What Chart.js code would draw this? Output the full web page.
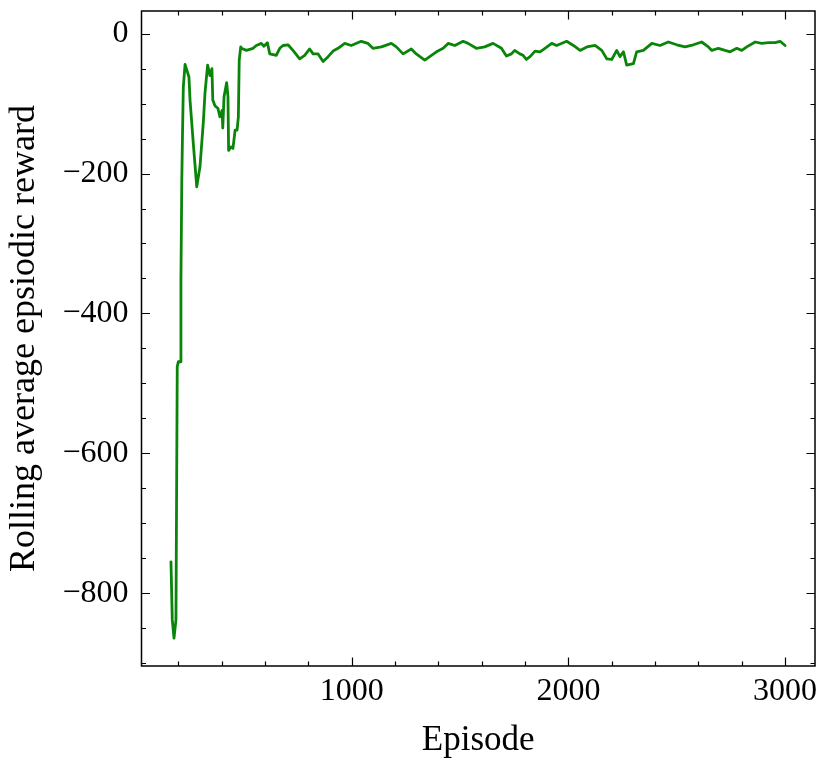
<!DOCTYPE html>
<html>
<head>
<meta charset="utf-8">
<script src="https://cdn.jsdelivr.net/npm/chart.js@4"></script>
<style>
  html, body { margin: 0; padding: 0; background: #fff; }
  #wrap { width: 832px; height: 767px; }
</style>
</head>
<body>
<div id="wrap"><canvas id="reward-chart" width="832" height="767"></canvas></div>
<script>
// episode numbers (x) and rolling average reward (y)
const episodes = [166, 172, 180, 189, 195, 200, 208, 212, 216, 219, 223, 231, 249, 254, 269, 285,
    300, 308, 315, 323, 335, 346, 355, 359, 369, 383, 392, 402, 405, 411, 423, 429, 432, 443,
    452, 462, 471, 477, 481, 488, 491, 514, 545, 560, 583, 595, 611, 622, 652, 668, 683, 706,
    729, 760, 783, 806, 822, 845, 868, 891, 914, 937, 968, 998, 1044, 1075, 1098, 1137, 1183,
    1206, 1237, 1275, 1298, 1337, 1360, 1391, 1422, 1445, 1476, 1514, 1537, 1575, 1614, 1652,
    1691, 1714, 1737, 1752, 1776, 1791, 1806, 1823, 1846, 1869, 1892, 1923, 1946, 1992, 2023,
    2054, 2085, 2123, 2154, 2177, 2200, 2223, 2238, 2254, 2269, 2300, 2315, 2346, 2385, 2423,
    2461, 2500, 2538, 2577, 2615, 2646, 2662, 2692, 2723, 2746, 2777, 2800, 2823, 2862, 2892,
    2923, 2954, 2977, 3000];
const rewards = [-755, -838, -864, -838, -476, -469, -469, -352, -209, -148, -76, -44, -62, -95, -157, -219,
    -190, -157, -128, -85, -45, -60, -50, -95, -103, -107, -119, -110, -135, -90, -70, -90, -167, -162,
    -164, -138, -138, -119, -38, -19, -21, -24, -21, -17, -14, -18, -13, -29, -31, -21, -17, -16,
    -24, -36, -31, -22, -29, -29, -40, -33, -25, -21, -14, -17, -11, -14, -21, -19, -14,
    -19, -29, -22, -29, -38, -33, -26, -21, -14, -17, -11, -14, -21, -19, -14,
    -21, -32, -29, -24, -29, -31, -37, -33, -25, -26, -21, -14, -17, -11, -17,
    -24, -19, -17, -24, -36, -37, -24, -33, -26, -45, -43, -26, -24, -14, -17,
    -12, -16, -19, -16, -12, -19, -24, -21, -24, -26, -21, -24, -19, -12, -14,
    -13, -13, -11, -17];

// tick labels
const xTicks = [1000, 2000, 3000];
const yTicks = [-800, -600, -400, -200, 0];

const serif = "'Liberation Serif', 'Times New Roman', serif";

// inward ticks on all four sides plus the frame
const framePlugin = {
    id: 'frame',
    afterDraw(chart) {
        const { ctx, chartArea: a, scales: { x, y } } = chart;
        ctx.save();
        ctx.strokeStyle = '#000';
        ctx.lineWidth = 1.2;
        const major = 8.5, minor = 4.5;
        for (let v = 200; v < x.max; v += 200) {
            if (v < x.min) continue;
            const px = Math.round(x.getPixelForValue(v)) + 0.5;
            const len = v % 1000 === 0 ? major : minor;
            ctx.beginPath();
            ctx.moveTo(px, a.bottom); ctx.lineTo(px, a.bottom - len);
            ctx.moveTo(px, a.top); ctx.lineTo(px, a.top + len);
            ctx.stroke();
        }
        for (let v = -900; v < y.max; v += 50) {
            if (v < y.min) continue;
            const py = Math.round(y.getPixelForValue(v)) + 0.5;
            const len = v % 200 === 0 ? major : minor;
            ctx.beginPath();
            ctx.moveTo(a.left, py); ctx.lineTo(a.left + len, py);
            ctx.moveTo(a.right, py); ctx.lineTo(a.right - len, py);
            ctx.stroke();
        }
        ctx.lineWidth = 1.5;
        ctx.strokeRect(a.left, a.top, a.right - a.left, a.bottom - a.top);
        ctx.restore();
    }
};

const rewardData = {
    datasets: [{
        data: episodes.map((e, i) => ({ x: e, y: rewards[i] })),
        borderColor: '#0a850a',
        borderWidth: 2.8,
        borderJoinStyle: 'round',
        borderCapStyle: 'round',
        pointRadius: 0,
        tension: 0,
        fill: false
    }]
};

const rewardOptions = {
    responsive: false,
    animation: false,
    layout: { padding: { left: 0, top: 11, right: 17, bottom: 0 } },
    plugins: { legend: { display: false }, tooltip: { enabled: false } },
    scales: {
        x: {
            type: 'linear',
            min: 30,
            max: 3138,
            afterBuildTicks: (s) => { s.ticks = xTicks.map(v => ({ value: v })); },
            afterFit: (s) => { s.height = 101; s.paddingLeft = 0; s.paddingRight = 0; },
            grid: { display: false, drawTicks: false },
            border: { display: false },
            ticks: {
                color: '#000', font: { family: serif, size: 32 }, padding: 6, maxRotation: 0,
                callback: (v) => String(v)
            },
            title: { display: true, text: 'Episode', color: '#000',
                     font: { family: serif, size: 35 }, padding: { top: 0, bottom: 5 } }
        },
        y: {
            type: 'linear',
            min: -903.9,
            max: 32.3,
            afterBuildTicks: (s) => { s.ticks = yTicks.map(v => ({ value: v })); },
            afterFit: (s) => { s.width = 141.5; s.paddingTop = 0; s.paddingBottom = 0; },
            grid: { display: false, drawTicks: false },
            border: { display: false },
            ticks: {
                color: '#000', font: { family: serif, size: 32 }, padding: 13,
                callback: (v) => v < 0 ? '\u2212' + Math.abs(v) : String(v)
            },
            title: { display: true, text: 'Rolling average epsiodic reward', color: '#000',
                     font: { family: serif, size: 36 }, padding: { top: 3, bottom: 0 } }
        }
    }
};

new Chart(document.getElementById('reward-chart'), {
    type: 'line',
    data: rewardData,
    options: rewardOptions,
    plugins: [framePlugin]
});
</script>
</body>
</html>
